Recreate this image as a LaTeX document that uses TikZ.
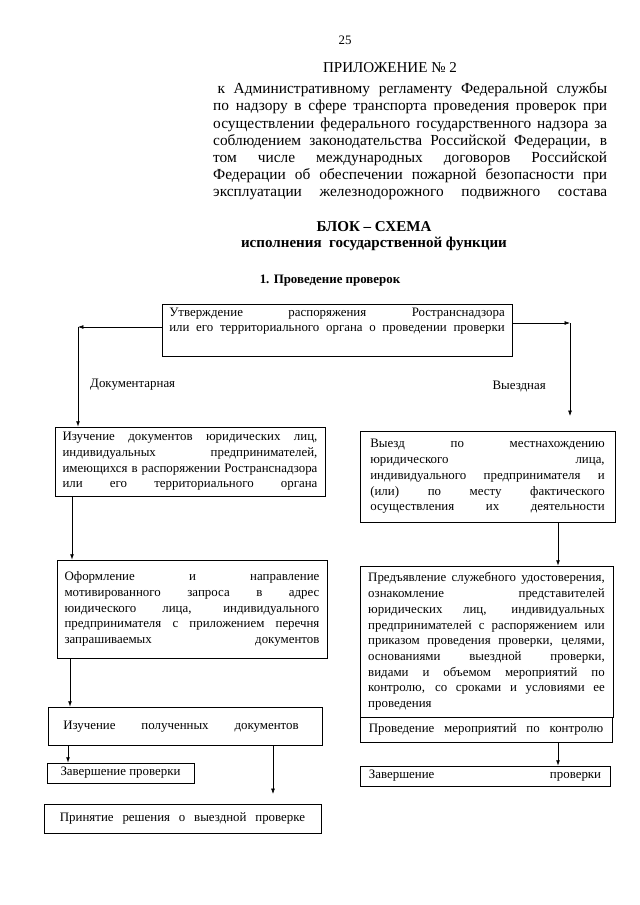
\documentclass[tikz,border=0pt]{standalone}
\usepackage{fontspec}
\setmainfont{Liberation Serif}
\usetikzlibrary{arrows.meta,fit,calc}
\newlength\jw
\newcommand\J[1]{{\spaceskip=0pt\xspaceskip=0pt\makebox[\jw][s]{#1}}}
\begin{document}
\begin{tikzpicture}[x=0.93pt,y=-0.93pt,
  bx/.style={draw, line width=0.7pt, inner sep=0pt},
  tx/.style={inner sep=0pt, align=left, font=\fontsize{12}{14.6}\selectfont},
  jt/.style={tx, text width=#1, execute at begin node={\setlength\jw{#1}}},
  hd/.style={inner sep=0pt, font=\fontsize{14}{16}\selectfont},
  arr/.style={-{Latex[length=5pt,width=3.6pt]}, line width=0.6pt}]
\useasboundingbox[fill=white] (0,0) rectangle (640,905);

% header
\node[inner sep=0pt, font=\fontsize{12}{14}\selectfont] (pg) at (345,40) {25};
\node[hd] (app) at (390,68) {ПРИЛОЖЕНИЕ № 2};
\node[hd, font=\fontsize{14.3}{16}\selectfont, align=left, text width=366.4pt, execute at begin node={\setlength\jw{366.4pt}}, anchor=north west] (par) at (213,82.5) {%
\J{\hspace{4pt}к Административному регламенту Федеральной службы}\\
\J{по надзору в сфере транспорта проведения проверок при}\\
\J{осуществлении федерального государственного надзора за}\\
\J{соблюдением законодательства Российской Федерации, в}\\
\J{том числе международных договоров Российской}\\
\J{Федерации об обеспечении пожарной безопасности при}\\
\J{эксплуатации железнодорожного подвижного состава}};
\node[hd, font=\fontsize{14}{16}\selectfont\bfseries] (t1) at (374,227) {БЛОК – СХЕМА};
\node[hd, font=\fontsize{14}{16}\selectfont\bfseries] (t2) at (374,244) {исполнения\ \ государственной функции};
\node[inner sep=0pt, font=\fontsize{12}{14}\selectfont\bfseries] (t3) at (330,281) {1. Проведение проверок};

% top box
\node[bx, fit={(162,304)(512,356)}] (T) {};
\node[jt=312pt] (Ttx) at (337,321) {%
\J{Утверждение распоряжения Ространснадзора}\\
\J{или его территориального органа о проведении проверки}};

% left column
\node[bx, fit={(55,427)(325,496)}] (L1) {};
\node[jt=237pt] (L1t) at (L1.center) {%
\J{Изучение документов юридических лиц,}\\
\J{индивидуальных предпринимателей,}\\
\J{имеющихся в распоряжении Ространснадзора}\\
\J{или его территориального органа}};
\node[bx, fit={(57,560)(327,658)}] (L2) {};
\node[jt=237pt] (L2t) at (L2.center) {%
\J{Оформление и направление}\\
\J{мотивированного запроса в адрес}\\
\J{юидического лица, индивидуального}\\
\J{предпринимателя с приложением перечня}\\
\J{запрашиваемых документов}};
\node[bx, fit={(48,707)(322,745)}] (L3) {};
\node[jt=219pt] (L3t) at (181,727) {%
\J{Изучение полученных документов}};
\node[bx, fit={(47,763)(194,783)}] (L4) {};
\node[tx] (L4t) at (L4.center) {Завершение проверки};
\node[bx, fit={(44,804)(321,833)}] (L5) {};
\node[jt=228pt] (L5t) at (L5.center) {%
\J{Принятие решения о выездной проверке}};

% right column
\node[bx, fit={(360,431)(615,522)}] (R1) {};
\node[jt=218pt] (R1t) at (R1.center) {%
\J{Выезд по местнахождению}\\
\J{юридического лица,}\\
\J{индивидуального предпринимателя и}\\
\J{(или) по месту фактического}\\
\J{осуществления их деятельности}};
\node[bx, fit={(360,566)(613,717)}] (R2) {};
\node[jt=220pt] (R2t) at (R2.center) {%
\J{Предъявление служебного удостоверения,}\\
\J{ознакомление представителей}\\
\J{юридических лиц, индивидуальных}\\
\J{предпринимателей с распоряжением или}\\
\J{приказом проведения проверки, целями,}\\
\J{основаниями выездной проверки,}\\
\J{видами и объемом мероприятий по}\\
\J{контролю, со сроками и условиями ее}\\
проведения};
\node[bx, fit={(360,717)(612,742)}] (R3) {};
\node[jt=218pt] (R3t) at (R3.center) {%
\J{Проведение мероприятий по контролю}};
\node[bx, fit={(360,766)(610,786)}] (R4) {};
\node[jt=216pt] (R4t) at (R4.center) {%
\J{Завершение проверки}};

% labels
\node[tx, anchor=west] (ld) at (90,385) {Документарная};
\node[tx, anchor=east] (lv) at (546,387) {Выездная};

% connectors
\coordinate (cl) at (78,327);
\coordinate (cr) at (570,323);
\coordinate (r1in) at (570,416);
\coordinate (a1) at (72,0);
\coordinate (a2) at (70,0);
\coordinate (a3) at (68,0);
\coordinate (a4) at (273,0);
\coordinate (l5in) at (273,794);
\coordinate (b1) at (558,0);
\draw[arr] (T.west |- cl) -- (cl);
\draw[arr] (cl) -- (cl |- L1.north);
\draw[arr] (T.east |- cr) -- (cr);
\draw[arr] (cr) -- (r1in);
\draw[arr] (L1.south -| a1) -- (L2.north -| a1);
\draw[arr] (L2.south -| a2) -- (L3.north -| a2);
\draw[arr] (L3.south -| a3) -- (L4.north -| a3);
\draw[arr] (L3.south -| a4) -- (l5in);
\draw[arr] (R1.south -| b1) -- (R2.north -| b1);
\draw[arr] (R3.south -| b1) -- (R4.north -| b1);
\end{tikzpicture}
\end{document}
